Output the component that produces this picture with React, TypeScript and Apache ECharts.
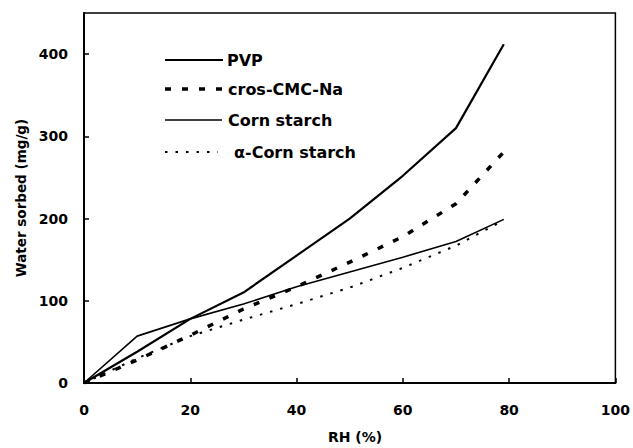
import React, { useEffect, useRef } from "react";
import * as echarts from "echarts";

const rh = [0, 10, 20, 30, 40, 50, 60, 70, 79];
const pvp = [0, 38, 78, 110, 155, 200, 252, 310, 412];
const crosCmcNa = [0, 28, 58, 90, 117, 147, 178, 218, 281];
const cornStarch = [0, 57, 78, 96, 117, 135, 153, 172, 199];
const alphaCornStarch = [0, 30, 57, 77, 96, 116, 140, 167, 198];

const seriesNames = ["PVP", "cros-CMC-Na", "Corn starch", "α-Corn starch"];
const xTicks = [0, 20, 40, 60, 80, 100];
const yTicks = [0, 100, 200, 300, 400];

const FONT = "'DejaVu Sans', 'Liberation Sans', sans-serif";

export default function App() {
  const ref = useRef<HTMLDivElement>(null);
  useEffect(() => {
    if (!ref.current) return;
    const chart = echarts.init(ref.current, undefined, { renderer: "svg" });
    const toPairs = (vals: number[]) => vals.map((v, i) => [rh[i], v]);
    const styles = [
      { width: 2.2, type: "solid" as any },
      { width: 3.5, type: [6, 11] as any },
      { width: 1.6, type: "solid" as any },
      { width: 2, type: [2.5, 8] as any },
    ];
    const datas = [pvp, crosCmcNa, cornStarch, alphaCornStarch];
    const legendY = [60, 89, 120, 152];
    const legendTextX = [227, 228, 228, 234];
    const legendLineEnd = [223, 222, 222, 218];
    const legendGraphics: any[] = [];
    styles.forEach((s, i) => {
      legendGraphics.push({
        type: "line",
        shape: { x1: 165, y1: legendY[i], x2: legendLineEnd[i], y2: legendY[i] },
        style: {
          stroke: "#000",
          lineWidth: s.width,
          lineDash: Array.isArray(s.type) ? s.type : null,
        },
      });
      legendGraphics.push({
        type: "text",
        x: legendTextX[i],
        y: legendY[i],
        style: {
          text: seriesNames[i],
          fill: "#000",
          fontFamily: FONT,
          fontWeight: "bold",
          fontSize: 16,
          verticalAlign: "middle",
          align: "left",
        },
      });
    });

    chart.setOption({
      animation: false,
      backgroundColor: "#fff",
      grid: {
        left: 84,
        top: 13,
        width: 532,
        height: 370,
        show: true,
        borderColor: "#000",
        borderWidth: 1.5,
        backgroundColor: "transparent",
      },
      xAxis: {
        type: "value",
        min: xTicks[0],
        max: xTicks[xTicks.length - 1],
        interval: 20,
        splitLine: { show: false },
        axisLine: { show: true, lineStyle: { color: "#000", width: 2 } },
        axisTick: { show: true, inside: true, length: 5, lineStyle: { color: "#000", width: 1.5 } },
        axisLabel: {
          color: "#000",
          fontFamily: FONT,
          fontWeight: "bold",
          fontSize: 14,
          margin: 20,
        },
      },
      yAxis: {
        type: "value",
        min: yTicks[0],
        max: 450,
        interval: 100,
        splitLine: { show: false },
        axisLine: { show: true, lineStyle: { color: "#000", width: 2 } },
        axisTick: { show: true, inside: true, length: 5, lineStyle: { color: "#000", width: 1.5 } },
        axisLabel: {
          color: "#000",
          fontFamily: FONT,
          fontWeight: "bold",
          fontSize: 14,
          margin: 16,
          showMaxLabel: false,
          formatter: (v: number) => (yTicks.includes(v) ? String(v) : ""),
        },
      },
      series: datas.map((d, i) => ({
        name: seriesNames[i],
        type: "line",
        data: toPairs(d),
        symbol: "none",
        smooth: false,
        lineStyle: { color: "#000", width: styles[i].width, type: styles[i].type },
      })),
      graphic: [
        ...legendGraphics,
        {
          type: "text",
          x: 21,
          y: 198,
          rotation: Math.PI / 2,
          style: {
            text: "Water sorbed (mg/g)",
            fill: "#000",
            fontFamily: FONT,
            fontWeight: "bold",
            fontSize: 13.5,
            align: "center",
            verticalAlign: "middle",
          },
        },
        {
          type: "text",
          x: 355,
          y: 437,
          style: {
            text: "RH (%)",
            fill: "#000",
            fontFamily: FONT,
            fontWeight: "bold",
            fontSize: 14,
            align: "center",
            verticalAlign: "middle",
          },
        },
      ],
    });
    return () => chart.dispose();
  }, []);
  return (
    <div
      ref={ref}
      style={{ position: "absolute", left: 0, top: 0, width: 633, height: 448 }}
    />
  );
}
